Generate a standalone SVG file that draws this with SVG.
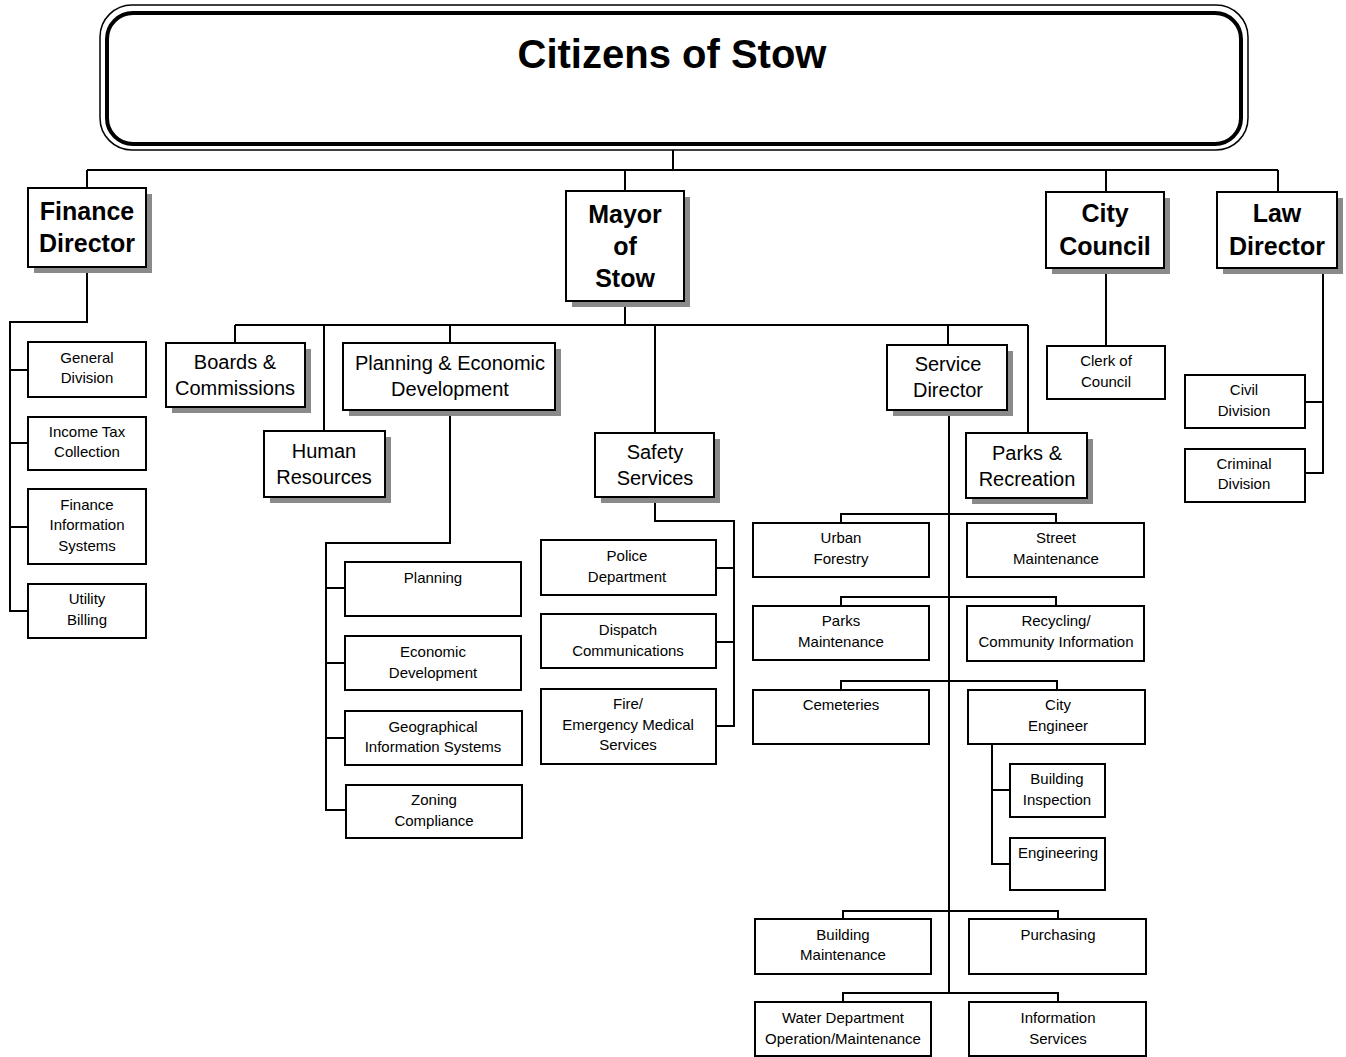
<svg xmlns="http://www.w3.org/2000/svg" width="1346" height="1057" viewBox="0 0 1346 1057">
<style>
.box{fill:#fff;stroke:#000;stroke-width:2}
.sh{fill:#8a8a8a}
.c{fill:none;stroke:#000;stroke-width:2}
text{font-family:"Liberation Sans",Arial,sans-serif;text-anchor:middle;fill:#000}
.tb{font-size:25px;font-weight:bold}
.tm{font-size:20px}
.ts{font-size:15px}
</style>
<rect width="1346" height="1057" fill="#fff"/>
<g id="citizens">
<rect x="100" y="5" width="1148" height="145" rx="32" fill="#fff" stroke="#000" stroke-width="1.5"/>
<rect x="107" y="13" width="1134" height="131" rx="26" fill="none" stroke="#000" stroke-width="4"/>
<text x="672" y="68" style="font-size:40px;font-weight:bold">Citizens of Stow</text>
</g>
<g id="connectors" class="c">
<path d="M673,150V170M87,170H1278M87,170V188M625,170V191M1106,170V192M1278,170V192"/>
<path d="M87,267V322H10V611H28M10,370H28M10,443H28M10,527H28"/>
<path d="M625,301V325M235,325H1028M235,325V343M324,325V431M450,325V343M655,325V433M948,325V345M1028,325V433"/>
<path d="M450,410V543H326V810H346M326,588H345M326,663H345M326,738H345"/>
<path d="M655,497V521H734V726H716M716,568H734M716,642H734"/>
<path d="M949,410V993M841,523V514H1056V523M841,606V597H1056V606M841,690V681H1057V690M992,744V864H1010M992,790H1010M843,919V911H1058V919M843,1002V993H1058V1002"/>
<path d="M1106,268V346M1323,268V473H1305M1305,402H1323"/>
</g>
<g id="finance-director"><rect class="sh" x="34" y="194" width="118" height="79"/><rect class="box" x="28" y="188" width="118" height="79"/><text class="tb" x="87" y="220">Finance</text><text class="tb" x="87" y="252">Director</text></g>
<g id="mayor"><rect class="sh" x="572" y="197" width="118" height="110"/><rect class="box" x="566" y="191" width="118" height="110"/><text class="tb" x="625" y="223">Mayor</text><text class="tb" x="625" y="255">of</text><text class="tb" x="625" y="287">Stow</text></g>
<g id="city-council"><rect class="sh" x="1052" y="198" width="118" height="76"/><rect class="box" x="1046" y="192" width="118" height="76"/><text class="tb" x="1105" y="222">City</text><text class="tb" x="1105" y="255">Council</text></g>
<g id="law-director"><rect class="sh" x="1223" y="198" width="120" height="76"/><rect class="box" x="1217" y="192" width="120" height="76"/><text class="tb" x="1277" y="222">Law</text><text class="tb" x="1277" y="255">Director</text></g>
<g id="general-division"><rect class="box" x="28" y="342" width="118" height="55"/><text class="ts" x="87" y="363">General</text><text class="ts" x="87" y="383">Division</text></g>
<g id="income-tax"><rect class="box" x="28" y="417" width="118" height="53"/><text class="ts" x="87" y="437">Income Tax</text><text class="ts" x="87" y="457">Collection</text></g>
<g id="finance-info"><rect class="box" x="28" y="489" width="118" height="75"/><text class="ts" x="87" y="510">Finance</text><text class="ts" x="87" y="530">Information</text><text class="ts" x="87" y="551">Systems</text></g>
<g id="utility-billing"><rect class="box" x="28" y="584" width="118" height="54"/><text class="ts" x="87" y="604">Utility</text><text class="ts" x="87" y="625">Billing</text></g>
<g id="boards"><rect class="sh" x="172" y="349" width="139" height="64"/><rect class="box" x="166" y="343" width="139" height="64"/><text class="tm" x="235" y="369">Boards &amp;</text><text class="tm" x="235" y="395">Commissions</text></g>
<g id="human-resources"><rect class="sh" x="270" y="437" width="121" height="66"/><rect class="box" x="264" y="431" width="121" height="66"/><text class="tm" x="324" y="458">Human</text><text class="tm" x="324" y="484">Resources</text></g>
<g id="planning-econ"><rect class="sh" x="349" y="349" width="212" height="67"/><rect class="box" x="343" y="343" width="212" height="67"/><text class="tm" x="450" y="370">Planning &amp; Economic</text><text class="tm" x="450" y="396">Development</text></g>
<g id="safety"><rect class="sh" x="601" y="439" width="119" height="64"/><rect class="box" x="595" y="433" width="119" height="64"/><text class="tm" x="655" y="459">Safety</text><text class="tm" x="655" y="485">Services</text></g>
<g id="service-director"><rect class="sh" x="893" y="351" width="120" height="65"/><rect class="box" x="887" y="345" width="120" height="65"/><text class="tm" x="948" y="371">Service</text><text class="tm" x="948" y="397">Director</text></g>
<g id="parks-rec"><rect class="sh" x="972" y="439" width="121" height="65"/><rect class="box" x="966" y="433" width="121" height="65"/><text class="tm" x="1027" y="460">Parks &amp;</text><text class="tm" x="1027" y="486">Recreation</text></g>
<g id="planning"><rect class="box" x="345" y="562" width="176" height="54"/><text class="ts" x="433" y="583">Planning</text></g>
<g id="econ-dev"><rect class="box" x="345" y="636" width="176" height="54"/><text class="ts" x="433" y="657">Economic</text><text class="ts" x="433" y="678">Development</text></g>
<g id="gis"><rect class="box" x="345" y="711" width="177" height="54"/><text class="ts" x="433" y="732">Geographical</text><text class="ts" x="433" y="752">Information Systems</text></g>
<g id="zoning"><rect class="box" x="346" y="785" width="176" height="53"/><text class="ts" x="434" y="805">Zoning</text><text class="ts" x="434" y="826">Compliance</text></g>
<g id="police"><rect class="box" x="541" y="540" width="175" height="55"/><text class="ts" x="627" y="561">Police</text><text class="ts" x="627" y="582">Department</text></g>
<g id="dispatch"><rect class="box" x="541" y="614" width="175" height="54"/><text class="ts" x="628" y="635">Dispatch</text><text class="ts" x="628" y="656">Communications</text></g>
<g id="fire-ems"><rect class="box" x="541" y="689" width="175" height="75"/><text class="ts" x="628" y="709">Fire/</text><text class="ts" x="628" y="730">Emergency Medical</text><text class="ts" x="628" y="750">Services</text></g>
<g id="urban-forestry"><rect class="box" x="753" y="523" width="176" height="54"/><text class="ts" x="841" y="543">Urban</text><text class="ts" x="841" y="564">Forestry</text></g>
<g id="street-maint"><rect class="box" x="967" y="523" width="177" height="54"/><text class="ts" x="1056" y="543">Street</text><text class="ts" x="1056" y="564">Maintenance</text></g>
<g id="parks-maint"><rect class="box" x="753" y="606" width="176" height="54"/><text class="ts" x="841" y="626">Parks</text><text class="ts" x="841" y="647">Maintenance</text></g>
<g id="recycling"><rect class="box" x="967" y="606" width="177" height="55"/><text class="ts" x="1056" y="626">Recycling/</text><text class="ts" x="1056" y="647">Community Information</text></g>
<g id="cemeteries"><rect class="box" x="753" y="690" width="176" height="54"/><text class="ts" x="841" y="710">Cemeteries</text></g>
<g id="city-engineer"><rect class="box" x="968" y="690" width="177" height="54"/><text class="ts" x="1058" y="710">City</text><text class="ts" x="1058" y="731">Engineer</text></g>
<g id="building-inspection"><rect class="box" x="1010" y="764" width="95" height="53"/><text class="ts" x="1057" y="784">Building</text><text class="ts" x="1057" y="805">Inspection</text></g>
<g id="engineering"><rect class="box" x="1010" y="838" width="95" height="52"/><text class="ts" x="1058" y="858">Engineering</text></g>
<g id="building-maint"><rect class="box" x="755" y="919" width="176" height="55"/><text class="ts" x="843" y="940">Building</text><text class="ts" x="843" y="960">Maintenance</text></g>
<g id="purchasing"><rect class="box" x="969" y="919" width="177" height="55"/><text class="ts" x="1058" y="940">Purchasing</text></g>
<g id="water-dept"><rect class="box" x="755" y="1002" width="176" height="54"/><text class="ts" x="843" y="1023">Water Department</text><text class="ts" x="843" y="1044">Operation/Maintenance</text></g>
<g id="info-services"><rect class="box" x="969" y="1002" width="177" height="54"/><text class="ts" x="1058" y="1023">Information</text><text class="ts" x="1058" y="1044">Services</text></g>
<g id="clerk"><rect class="box" x="1047" y="346" width="118" height="53"/><text class="ts" x="1106" y="366">Clerk of</text><text class="ts" x="1106" y="387">Council</text></g>
<g id="civil"><rect class="box" x="1185" y="375" width="120" height="53"/><text class="ts" x="1244" y="395">Civil</text><text class="ts" x="1244" y="416">Division</text></g>
<g id="criminal"><rect class="box" x="1185" y="449" width="120" height="53"/><text class="ts" x="1244" y="469">Criminal</text><text class="ts" x="1244" y="489">Division</text></g>
</svg>
